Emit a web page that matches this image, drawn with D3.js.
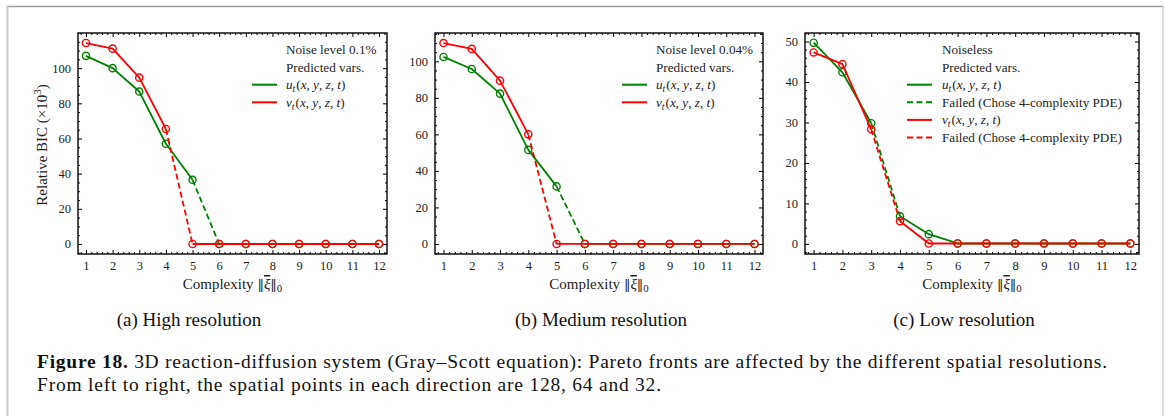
<!DOCTYPE html>
<html>
<head>
<meta charset="utf-8">
<script src="https://cdn.jsdelivr.net/npm/d3@7"></script>
<style>
  html, body { margin: 0; padding: 0; background: #fff; }
  svg { display: block; }
  text { font-family: "Liberation Serif", "Times New Roman", serif; }
</style>
</head>
<body>
<svg id="fig" width="1167" height="416"></svg>
<script>
// Complexity levels on the Pareto front
const complexity = [1, 2, 3, 4, 5, 6, 7, 8, 9, 10, 11, 12];

// Relative BIC (x10^3) per complexity, one array per resolution and variable
const highU = [107.0, 100.0, 86.7, 57.0, 36.5, 0, 0, 0, 0, 0, 0, 0];
const highV = [114.3, 111.1, 94.6, 65.4, 0, 0, 0, 0, 0, 0, 0, 0];
const medU  = [102.4, 95.8, 82.3, 51.5, 31.5, 0, 0, 0, 0, 0, 0, 0];
const medV  = [110.0, 106.8, 89.4, 60.0, 0, 0, 0, 0, 0, 0, 0, 0];
const lowU  = [49.7, 42.4, 29.8, 6.8, 2.4, 0.1, 0.1, 0.1, 0.1, 0.1, 0.1, 0.1];
const lowV  = [47.3, 44.4, 28.3, 5.6, 0.1, 0.1, 0.1, 0.1, 0.1, 0.1, 0.1, 0.1];

// Index of the segment drawn dashed (from i to i+1) for each series
const dashedFrom = { highU: 4, highV: 3, medU: 4, medV: 3, lowU: 2, lowV: 2 };

// Tick values
const xTicks = complexity;
const yTicksHigh = [0, 20, 40, 60, 80, 100];
const yTicksLow = [0, 10, 20, 30, 40, 50];

const subCaptions = ["(a) High resolution", "(b) Medium resolution", "(c) Low resolution"];
const noiseLabels = ["Noise level 0.1%", "Noise level 0.04%", "Noiseless"];

const GREEN = "#008000", RED = "#ff0000";

const svg = d3.select("#fig");

// page frame
svg.append("line").attr("x1", 7).attr("x2", 1163).attr("y1", 6.5).attr("y2", 6.5)
  .attr("stroke", "#9a9a9a").attr("stroke-width", 1.5);
svg.append("line").attr("x1", 7.5).attr("x2", 7.5).attr("y1", 6).attr("y2", 416)
  .attr("stroke", "#c8c8c8").attr("stroke-width", 2);
svg.append("line").attr("x1", 1163).attr("x2", 1163).attr("y1", 6).attr("y2", 416)
  .attr("stroke", "#cfcfcf").attr("stroke-width", 1.5);

const panels = [
  { x0: 78,  x1: 387,  u: highU, v: highV, uk: "highU", vk: "highV", ymax: 120.0, ymin: -5.7, yt: yTicksHigh, minor: 5, legX: 286, lineX: 252, cap: 189, failed: false },
  { x0: 435, x1: 763,  u: medU,  v: medV,  uk: "medU",  vk: "medV",  ymax: 115.5, ymin: -5.5, yt: yTicksHigh, minor: 5, legX: 656, lineX: 622, cap: 601, failed: false },
  { x0: 805, x1: 1139, u: lowU,  v: lowV,  uk: "lowU",  vk: "lowV",  ymax: 52.1,  ymin: -2.5, yt: yTicksLow,  minor: 2, legX: 942, lineX: 907, cap: 964, failed: true }
];
const Y0 = 33, Y1 = 254;

function mathLabel(sel, letter) {
  // letter_t(x, y, z, t) in math italic
  sel.append("tspan").attr("font-style", "italic").text(letter);
  sel.append("tspan").attr("font-style", "italic").attr("font-size", "0.72em").attr("dy", 3).text("t");
  sel.append("tspan").attr("dy", -3).attr("dx", 1).text("(");
  sel.append("tspan").attr("font-style", "italic").text("x");
  sel.append("tspan").text(", ");
  sel.append("tspan").attr("font-style", "italic").text("y");
  sel.append("tspan").text(", ");
  sel.append("tspan").attr("font-style", "italic").text("z");
  sel.append("tspan").text(", ");
  sel.append("tspan").attr("font-style", "italic").text("t");
  sel.append("tspan").text(")");
}

panels.forEach((p, pi) => {
  const x = d3.scaleLinear().domain([0.7, 12.3]).range([p.x0, p.x1]);
  const y = d3.scaleLinear().domain([p.ymin, p.ymax]).range([Y1, Y0]);
  const g = svg.append("g");

  const xMinor = d3.range(0.8, 12.25, 0.2).filter(v => Math.abs(v - Math.round(v)) > 0.01);
  const yMinor = d3.range(Math.ceil(p.ymin / p.minor) * p.minor, p.ymax, p.minor)
    .filter(v => Math.abs(v % p.yt[1]) > 1e-6);

  const axisStyle = a => a.call(s => s.select(".domain").remove())
    .call(s => s.selectAll("line").attr("stroke", "#000").attr("stroke-width", 1))
    .call(s => s.selectAll("text").attr("font-size", 12.5).attr("fill", "#222")
      .attr("font-family", "'Liberation Serif', serif"));

  // major + minor ticks, inward, all four sides
  g.append("g").attr("transform", `translate(0,${Y1})`)
    .call(d3.axisBottom(x).tickValues(xTicks).tickSize(-4).tickPadding(7).tickFormat(d3.format("d"))).call(axisStyle);
  g.append("g").attr("transform", `translate(0,${Y1})`)
    .call(d3.axisBottom(x).tickValues(xMinor).tickSize(-2).tickFormat("")).call(axisStyle);
  g.append("g").attr("transform", `translate(0,${Y0})`)
    .call(d3.axisTop(x).tickValues(xTicks).tickSize(-4).tickFormat("")).call(axisStyle);
  g.append("g").attr("transform", `translate(0,${Y0})`)
    .call(d3.axisTop(x).tickValues(xMinor).tickSize(-2).tickFormat("")).call(axisStyle);
  g.append("g").attr("transform", `translate(${p.x0},0)`)
    .call(d3.axisLeft(y).tickValues(p.yt).tickSize(-4).tickPadding(7).tickFormat(d3.format("d"))).call(axisStyle);
  g.append("g").attr("transform", `translate(${p.x0},0)`)
    .call(d3.axisLeft(y).tickValues(yMinor).tickSize(-2).tickFormat("")).call(axisStyle);
  g.append("g").attr("transform", `translate(${p.x1},0)`)
    .call(d3.axisRight(y).tickValues(p.yt).tickSize(-4).tickFormat("")).call(axisStyle);
  g.append("g").attr("transform", `translate(${p.x1},0)`)
    .call(d3.axisRight(y).tickValues(yMinor).tickSize(-2).tickFormat("")).call(axisStyle);

  // series
  const line = d3.line().x(d => x(d[0])).y(d => y(d[1]));
  [[p.u, p.uk, GREEN], [p.v, p.vk, RED]].forEach(([vals, key, color]) => {
    const pts = complexity.map((c, i) => [c, vals[i]]);
    const k = dashedFrom[key];
    g.append("path").attr("d", line(pts.slice(0, k + 1))).attr("fill", "none")
      .attr("stroke", color).attr("stroke-width", 1.8).attr("stroke-linejoin", "round");
    g.append("path").attr("d", line(pts.slice(k, k + 2))).attr("fill", "none")
      .attr("stroke", color).attr("stroke-width", 1.8).attr("stroke-dasharray", "6,3.2");
    g.append("path").attr("d", line(pts.slice(k + 1))).attr("fill", "none")
      .attr("stroke", color).attr("stroke-width", 1.8).attr("stroke-linejoin", "round");
    g.selectAll(null).data(pts).join("circle")
      .attr("cx", d => x(d[0])).attr("cy", d => y(d[1])).attr("r", 3.6)
      .attr("fill", "none").attr("stroke", color).attr("stroke-width", 1.4);
  });

  // axes box
  g.append("rect").attr("x", p.x0).attr("y", Y0).attr("width", p.x1 - p.x0).attr("height", Y1 - Y0)
    .attr("fill", "none").attr("stroke", "#000").attr("stroke-width", 1.4);

  // legend
  const legRows = p.failed
    ? [["title", noiseLabels[pi]], ["title", "Predicted vars."], ["u", GREEN, false], ["fail", GREEN, true], ["v", RED, false], ["fail", RED, true]]
    : [["title", noiseLabels[pi]], ["title", "Predicted vars."], ["u", GREEN, false], ["v", RED, false]];
  legRows.forEach((r, ri) => {
    const cy = 49.5 + ri * 17.6;
    const t = g.append("text").attr("x", p.legX).attr("y", cy + 4.5).attr("font-size", 13.2).attr("fill", "#222");
    if (r[0] === "title") { t.text(r[1]); return; }
    g.append("line").attr("x1", p.lineX).attr("x2", p.lineX + 25).attr("y1", cy).attr("y2", cy)
      .attr("stroke", r[1]).attr("stroke-width", 2).attr("stroke-dasharray", r[2] ? "6,3.5" : null);
    if (r[0] === "fail") t.text("Failed (Chose 4-complexity PDE)");
    else mathLabel(t, r[0]);
  });

  // x label
  const xl = g.append("text").attr("x", (p.x0 + p.x1) / 2).attr("y", 289).attr("text-anchor", "middle")
    .attr("font-size", 15).attr("fill", "#222");
  xl.append("tspan").text("Complexity ");
  xl.append("tspan").attr("font-family", "'DejaVu Serif', serif").attr("font-size", 13).text("\u2016");
  xl.append("tspan").attr("font-style", "italic").style("text-decoration", "overline").text("\u03be");
  xl.append("tspan").attr("font-family", "'DejaVu Serif', serif").attr("font-size", 13).text("\u2016");
  xl.append("tspan").attr("font-size", "0.72em").attr("dy", 3).text("0");

  // sub caption
  svg.append("text").attr("x", p.cap).attr("y", 326).attr("text-anchor", "middle")
    .attr("font-size", 19).attr("fill", "#111").text(subCaptions[pi]);
});

// y label (first panel only)
const yl = svg.append("text").attr("transform", "translate(47,145) rotate(-90)")
  .attr("text-anchor", "middle").attr("font-size", 15).attr("fill", "#222");
yl.append("tspan").text("Relative BIC (\u00d710");
yl.append("tspan").attr("font-size", "0.72em").attr("dy", -6).text("3");
yl.append("tspan").attr("dy", 6).text(")");

// figure caption
const cap1 = svg.append("text").attr("x", 37).attr("y", 368).attr("font-size", 19.5).attr("fill", "#111")
  .attr("textLength", 1070).attr("lengthAdjust", "spacing");
cap1.append("tspan").attr("font-weight", "bold").text("Figure 18.");
cap1.append("tspan").text(" 3D reaction-diffusion system (Gray\u2013Scott equation): Pareto fronts are affected by the different spatial resolutions.");
svg.append("text").attr("x", 37).attr("y", 391).attr("font-size", 19.5).attr("fill", "#111")
  .attr("textLength", 624).attr("lengthAdjust", "spacing")
  .text("From left to right, the spatial points in each direction are 128, 64 and 32.");
</script>
</body>
</html>
